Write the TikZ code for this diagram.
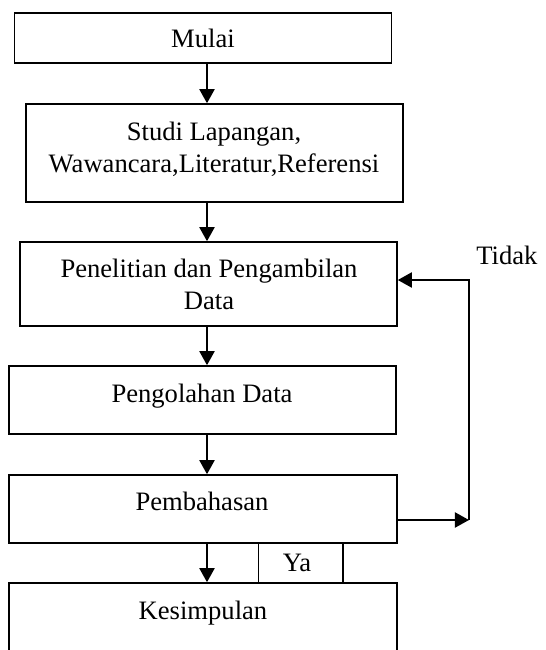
\documentclass[tikz,border=0pt]{standalone}
\usepackage{fontspec}
\setmainfont{Liberation Serif}
\usetikzlibrary{arrows.meta}
\begin{document}
\begin{tikzpicture}[x=0.5pt,y=-0.5pt,
  box/.style={draw, line width=0.8pt, inner sep=0pt, rectangle},
  lbl/.style={font=\fontsize{13.3}{16}\selectfont, inner sep=0pt, align=center},
  arr/.style={line width=1pt, -{Triangle[length=7pt,width=7.5pt]}},
  ln/.style={line width=1pt}]
\clip (0,0) rectangle (546,650);
% boxes
\node[box, minimum width=188.5pt, minimum height=25pt] (b1) at (203,38) {};
\node[box, minimum width=188.5pt, minimum height=49pt] (b2) at (214.5,153) {};
\node[box, minimum width=188.5pt, minimum height=42pt] (b3) at (208.5,284) {};
\node[box, minimum width=193.5pt, minimum height=34pt] (b4) at (202.5,400) {};
\node[box, minimum width=194pt, minimum height=34pt] (b5) at (203,509) {};
\node[box, minimum width=42.25pt, minimum height=20pt] (ya) at (300.75,563) {};
\node[box, minimum width=194pt, minimum height=43.5pt] (b6) at (203,626.5) {};
% texts
\node[lbl, anchor=base] (t1) at (203,47) {Mulai};
\node[lbl] (t2) at (214,149) {Studi Lapangan,\\Wawancara,Literatur,Referensi};
\node[lbl] (t3) at (209,284.5) {Penelitian dan Pengambilan\\Data};
\node[lbl, anchor=base] (t4) at (202,402) {Pengolahan Data};
\node[lbl, anchor=base] (t5) at (202,510) {Pembahasan};
\node[lbl, anchor=base] (t6) at (297,571.5) {Ya};
\node[lbl, anchor=base] (t7) at (203,619) {Kesimpulan};
\node[lbl, anchor=base west] (t8) at (476,264) {Tidak};
% connectors
\coordinate (ax) at (207,0);
\draw[arr] (b1.south -| ax) -- (b2.north -| ax);
\draw[arr] (b2.south -| ax) -- (b3.north -| ax);
\draw[arr] (b3.south -| ax) -- (b4.north -| ax);
\draw[arr] (b4.south -| ax) -- (b5.north -| ax);
\draw[arr] (b5.south -| ax) -- (b6.north -| ax);
\coordinate (r1) at (469,520);
\coordinate (r2) at (469,280);
\draw[arr] (b5.east |- r1) -- (r1);
\draw[arr] (r1) -- (r2) -- (b3.east |- r2);
\end{tikzpicture}
\end{document}
